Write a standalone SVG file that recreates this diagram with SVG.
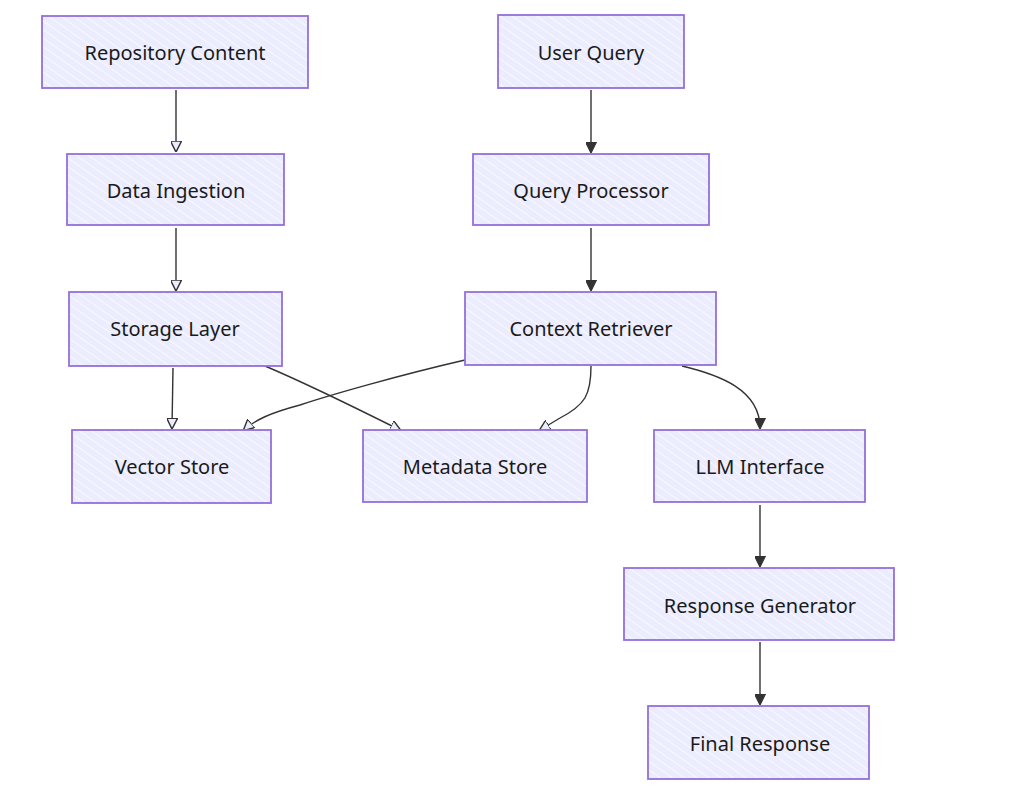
<svg xmlns="http://www.w3.org/2000/svg" width="1024" height="792" viewBox="0 0 1024 792">
<style>
.box{fill:url(#hatch);stroke:#9370DB;stroke-width:1.8}
.lbl{font-family:"Noto Sans","DejaVu Sans",sans-serif;font-size:20px;fill:#1a1a1a;text-anchor:middle;dominant-baseline:central}
.edge{fill:none;stroke:#333;stroke-width:1.4}
</style>
<defs>
<pattern id="hatch" patternUnits="userSpaceOnUse" width="7" height="7" patternTransform="rotate(-55)">
<rect width="7" height="7" fill="#ECECFF"/>
<line x1="0" y1="0" x2="0" y2="7" stroke="#f8f8ff" stroke-width="2"/>
</pattern>
<marker id="af" viewBox="0 0 10 10" refX="9" refY="5" markerWidth="11" markerHeight="11" orient="auto" markerUnits="userSpaceOnUse">
<path d="M0,0 L10,5 L0,10 z" fill="#333" stroke="#333"/>
</marker>
<marker id="ao" viewBox="0 0 10 10" refX="9" refY="5" markerWidth="11" markerHeight="11" orient="auto" markerUnits="userSpaceOnUse">
<path d="M0,0 L10,5 L0,10 z" fill="#ECECFF" stroke="#333" stroke-width="1.3"/>
</marker>
</defs>
<rect width="1024" height="792" fill="#fff"/>
<g id="connectors">
<path class="edge" d="M176,90 L176,151" marker-end="url(#ao)"/>
<path class="edge" d="M176,228 L176,290" marker-end="url(#ao)"/>
<path class="edge" d="M173,368 L172,428" marker-end="url(#ao)"/>
<path class="edge" d="M265,366 C310,385 360,410 400,430" marker-end="url(#ao)"/>
<path class="edge" d="M465,360 C400,375 330,395 300,405 C270,413 255,420 244,430" marker-end="url(#ao)"/>
<path class="edge" d="M591,366 C591,395 585,405 560,418 L540,430" marker-end="url(#ao)"/>
<path class="edge" d="M682,366 C720,375 760,390 760,428" marker-end="url(#af)"/>
<path class="edge" d="M591,90 L591,152" marker-end="url(#af)"/>
<path class="edge" d="M591,228 L591,290" marker-end="url(#af)"/>
<path class="edge" d="M760,505 L760,566" marker-end="url(#af)"/>
<path class="edge" d="M760,642 L760,704" marker-end="url(#af)"/>
</g>
<g id="repo"><rect class="box" x="42" y="16" width="266" height="72"/><text class="lbl" x="175" y="52">Repository Content</text></g>
<g id="userq"><rect class="box" x="498" y="15" width="186" height="73"/><text class="lbl" x="591" y="52">User Query</text></g>
<g id="ingest"><rect class="box" x="67" y="154" width="217" height="71"/><text class="lbl" x="176" y="190">Data Ingestion</text></g>
<g id="qproc"><rect class="box" x="473" y="154" width="236" height="71"/><text class="lbl" x="591" y="190">Query Processor</text></g>
<g id="storage"><rect class="box" x="69" y="292" width="213" height="74"/><text class="lbl" x="175" y="328">Storage Layer</text></g>
<g id="ctx"><rect class="box" x="465" y="292" width="251" height="73"/><text class="lbl" x="591" y="328">Context Retriever</text></g>
<g id="vector"><rect class="box" x="72" y="430" width="199" height="73"/><text class="lbl" x="172" y="466">Vector Store</text></g>
<g id="meta"><rect class="box" x="363" y="430" width="224" height="72"/><text class="lbl" x="475" y="466">Metadata Store</text></g>
<g id="llm"><rect class="box" x="654" y="430" width="211" height="72"/><text class="lbl" x="760" y="466">LLM Interface</text></g>
<g id="respgen"><rect class="box" x="624" y="568" width="270" height="72"/><text class="lbl" x="760" y="605">Response Generator</text></g>
<g id="final"><rect class="box" x="648" y="706" width="221" height="73"/><text class="lbl" x="760" y="743">Final Response</text></g>
</svg>
